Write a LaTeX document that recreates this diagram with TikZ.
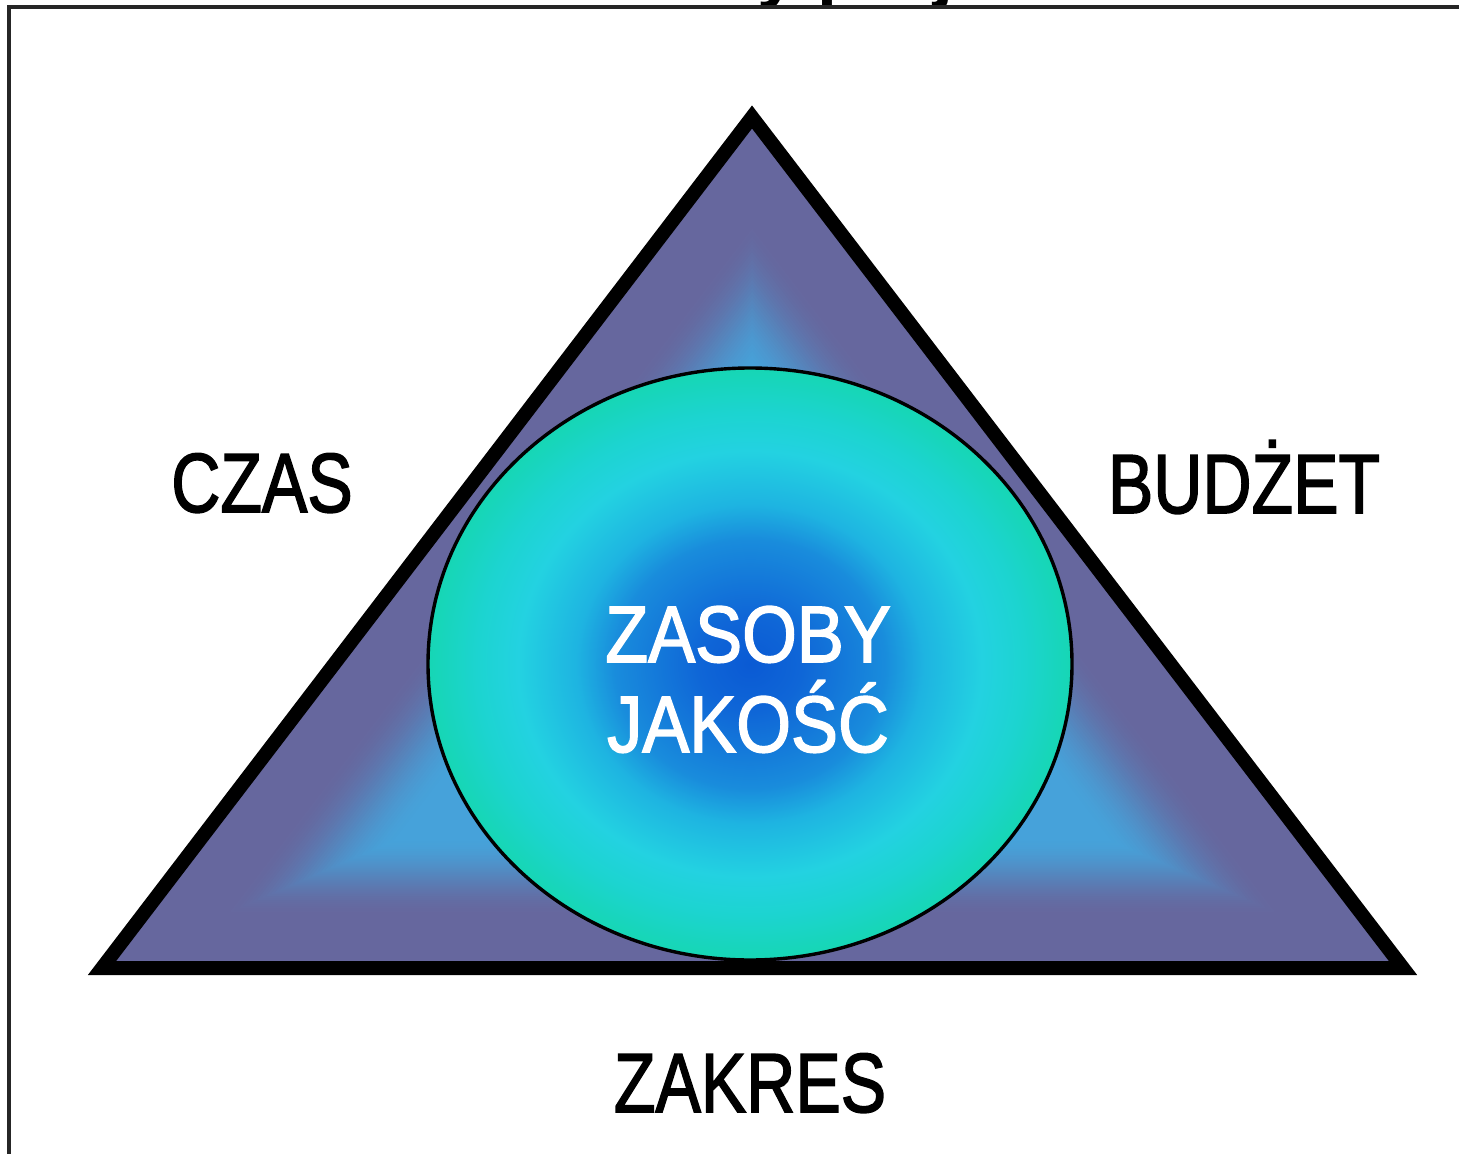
\documentclass[tikz,border=0pt]{standalone}
\usepackage{fontspec}
\setmainfont{Liberation Sans}
\newfontface\lblfont{Liberation Sans}[FakeBold=2]
\usepackage{graphicx}
\usetikzlibrary{calc}
\definecolor{tpurple}{RGB}{102,103,158}
\definecolor{tblue}{RGB}{70,162,218}
\definecolor{ec0}{RGB}{10,90,212}
\definecolor{ec1}{RGB}{15,102,215}
\definecolor{ec2}{RGB}{25,140,220}
\definecolor{ec3}{RGB}{30,180,225}
\definecolor{ec4}{RGB}{35,210,225}
\definecolor{ec5}{RGB}{28,212,208}
\definecolor{ec6}{RGB}{22,214,180}
\pgfdeclareradialshading{ellshade}{\pgfpointorigin}{color(0bp)=(ec0); color(4bp)=(ec1); color(10.5bp)=(ec2); color(13.5bp)=(ec3); color(18bp)=(ec4); color(21.25bp)=(ec5); color(25bp)=(ec6); color(50bp)=(ec6)}
\begin{document}
\begin{tikzpicture}[x=0.5pt,y=-0.5pt,
  blacklabel/.style={anchor=base, text=black, inner sep=0pt, font=\fontsize{42}{50}\lblfont},
  whitelabel/.style={anchor=base, text=white, inner sep=0pt, font=\fontsize{40}{48}\lblfont},
  framestroke/.style={line width=1.6pt, draw=black!85}]
\useasboundingbox (0,0) rectangle (1459,1154);
\clip (0,0) rectangle (1459,1154);
% title, cut off by the top edge as in the reference (only descenders visible)
\node[anchor=base west, inner sep=0pt, font=\fontsize{36}{40}\selectfont\bfseries] (title) at (445,-5) {Parametry projektu};
% frame
\coordinate (fb) at (9,1170);
\coordinate (ftl) at (9,7);
\coordinate (fr) at (1470,7);
\draw[framestroke] (fb) -- (ftl) -- (fr);
% triangle
\coordinate (A) at (752,117);
\coordinate (B) at (102,968);
\coordinate (D) at (1403,968);
\coordinate (G) at (752.3,684.3);
\fill[tpurple] (A) -- (B) -- (D) -- cycle;
\foreach \k in {0,...,70} {
  \pgfmathsetmacro{\t}{1-\k*0.007}
  \pgfmathsetmacro{\s}{min(1,max(0,(0.82-\t)/0.28))}
  \pgfmathsetmacro{\p}{100*\s*\s*(3-2*\s)}
  \fill[tblue!\p!tpurple] ($(G)!\t!(A)$) -- ($(G)!\t!(B)$) -- ($(G)!\t!(D)$) -- cycle;
}
\draw[line width=7pt, line join=miter] (A) -- (B) -- (D) -- cycle;
% ellipse
\coordinate (E) at (750,664);
\draw[shading=ellshade, line width=1.7pt] (E) ellipse [x radius=322, y radius=296];
% labels
\node[whitelabel] (zasoby) at (748,662) {\scalebox{0.88}[1]{ZASOBY}};
\node[whitelabel] (jakosc) at (748,752) {\scalebox{0.88}[1]{JAKOŚĆ}};
\node[blacklabel] (czas) at (262,512) {\scalebox{0.81}[1]{CZAS}};
\node[blacklabel] (budzet) at (1244,513) {\scalebox{0.81}[1]{BUDŻET}};
\node[blacklabel] (zakres) at (750,1112) {\scalebox{0.81}[1]{ZAKRES}};
\end{tikzpicture}
\end{document}
